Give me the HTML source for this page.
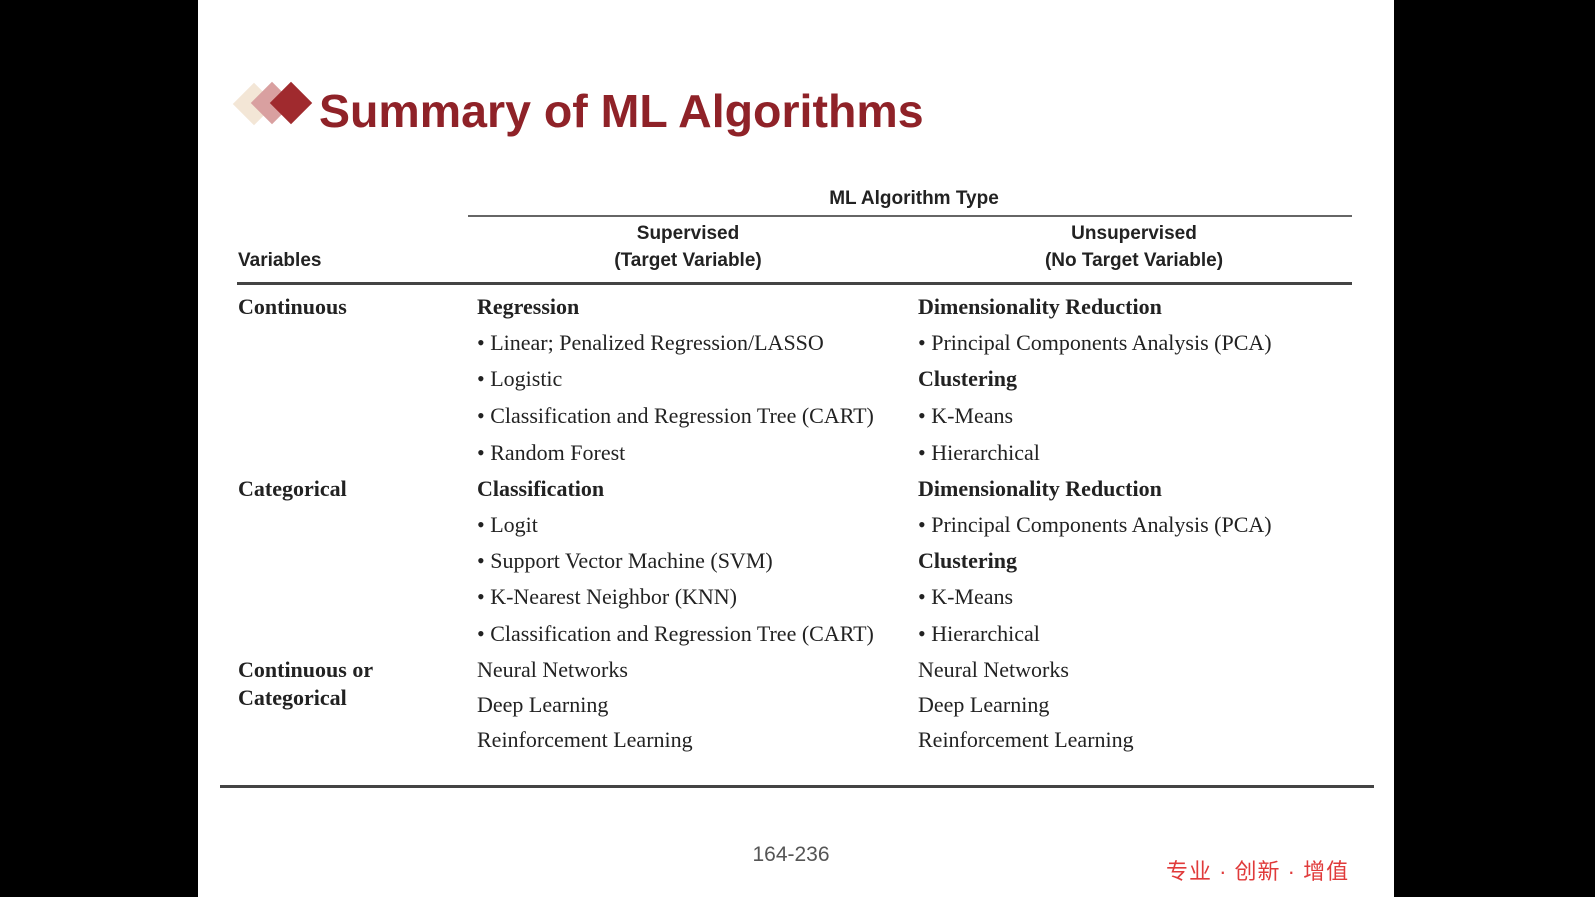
<!DOCTYPE html>
<html><head><meta charset="utf-8"><style>
body{margin:0;width:1595px;height:897px;background:#000;position:relative;overflow:hidden;font-family:"Liberation Serif",serif}
#s{position:absolute;left:198px;top:0;width:1196px;height:897px;background:#fff}
.a{position:absolute;white-space:nowrap}
.h{font-family:"Liberation Sans",sans-serif;font-weight:bold;font-size:19px;color:#222;transform:translate(-50%,-50%)}
.b{font-size:22px;color:#222;transform:translateY(-50%)}
.bb{font-weight:bold}
.d{position:absolute;width:30px;height:30px;transform:rotate(45deg)}
.ln{position:absolute;background:#444}
</style></head><body><div id="s"></div>
<div class="d" style="left:239px;top:89px;background:#f3e6d6"></div>
<div class="d" style="left:257px;top:88px;background:#d9a0a0"></div>
<div class="d" style="left:276px;top:88px;background:#a02a2e"></div>
<div class="a" style="left:319px;top:84px;font-family:'Liberation Sans',sans-serif;font-weight:bold;font-size:46.5px;color:#8f2228">Summary of ML Algorithms</div>
<div class="a h" style="left:914px;top:199px">ML Algorithm Type</div>
<div class="ln" style="left:468px;top:215px;width:884px;height:2px;background:#666"></div>
<div class="a h" style="left:688px;top:234px">Supervised</div>
<div class="a h" style="left:688px;top:261px">(Target Variable)</div>
<div class="a h" style="left:1134px;top:234px">Unsupervised</div>
<div class="a h" style="left:1134px;top:261px">(No Target Variable)</div>
<div class="a h" style="left:238px;top:261px;transform:translateY(-50%)">Variables</div>
<div class="ln" style="left:237px;top:282px;width:1115px;height:3px"></div>
<div class="ln" style="left:220px;top:785px;width:1154px;height:3px"></div>

<div class="a b bb" style="left:238px;top:307px">Continuous</div>
<div class="a b bb" style="left:238px;top:489px">Categorical</div>
<div class="a b bb" style="left:238px;top:670px">Continuous or</div>
<div class="a b bb" style="left:238px;top:698px">Categorical</div>

<div class="a b bb" style="left:477px;top:307px">Regression</div>
<div class="a b" style="left:477px;top:343px">• Linear; Penalized Regression/LASSO</div>
<div class="a b" style="left:477px;top:379px">• Logistic</div>
<div class="a b" style="left:477px;top:416px">• Classification and Regression Tree (CART)</div>
<div class="a b" style="left:477px;top:453px">• Random Forest</div>
<div class="a b bb" style="left:477px;top:489px">Classification</div>
<div class="a b" style="left:477px;top:525px">• Logit</div>
<div class="a b" style="left:477px;top:561px">• Support Vector Machine (SVM)</div>
<div class="a b" style="left:477px;top:597px">• K-Nearest Neighbor (KNN)</div>
<div class="a b" style="left:477px;top:634px">• Classification and Regression Tree (CART)</div>
<div class="a b" style="left:477px;top:670px">Neural Networks</div>
<div class="a b" style="left:477px;top:705px">Deep Learning</div>
<div class="a b" style="left:477px;top:740px">Reinforcement Learning</div>

<div class="a b bb" style="left:918px;top:307px">Dimensionality Reduction</div>
<div class="a b" style="left:918px;top:343px">• Principal Components Analysis (PCA)</div>
<div class="a b bb" style="left:918px;top:379px">Clustering</div>
<div class="a b" style="left:918px;top:416px">• K-Means</div>
<div class="a b" style="left:918px;top:453px">• Hierarchical</div>
<div class="a b bb" style="left:918px;top:489px">Dimensionality Reduction</div>
<div class="a b" style="left:918px;top:525px">• Principal Components Analysis (PCA)</div>
<div class="a b bb" style="left:918px;top:561px">Clustering</div>
<div class="a b" style="left:918px;top:597px">• K-Means</div>
<div class="a b" style="left:918px;top:634px">• Hierarchical</div>
<div class="a b" style="left:918px;top:670px">Neural Networks</div>
<div class="a b" style="left:918px;top:705px">Deep Learning</div>
<div class="a b" style="left:918px;top:740px">Reinforcement Learning</div>

<div class="a" style="left:791px;top:855px;transform:translate(-50%,-50%);font-family:'Liberation Sans',sans-serif;font-size:21px;color:#555">164-236</div>
<div class="a" style="left:1166px;top:870px;transform:translateY(-50%);font-family:'Liberation Sans','Noto Sans CJK SC',sans-serif;font-size:22px;letter-spacing:1px;color:#e03a3a">专业 · 创新 · 增值</div>
</body></html>
